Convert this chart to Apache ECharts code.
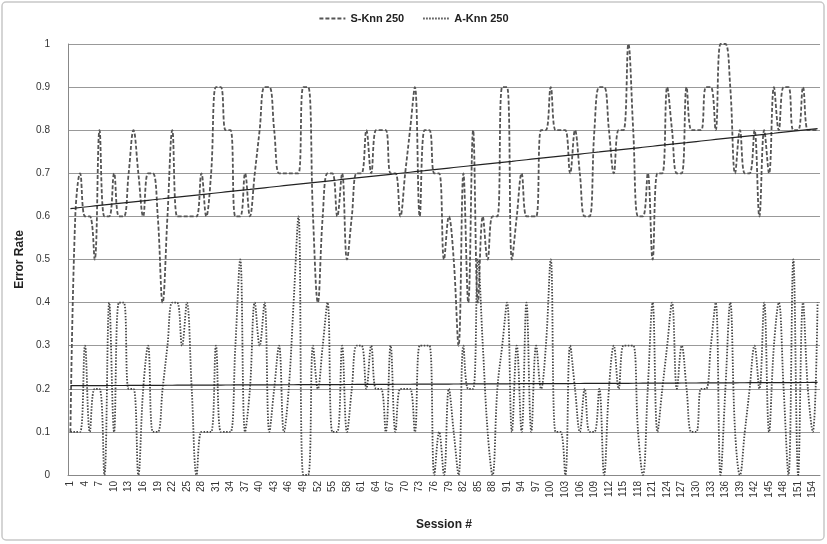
<!DOCTYPE html>
<html>
<head>
<meta charset="utf-8">
<script src="https://cdn.jsdelivr.net/npm/echarts@6/dist/echarts.min.js"></script>
<style>
  html, body { margin: 0; padding: 0; background: #fff; }
  #chart { width: 827px; height: 544px; }
</style>
</head>
<body>
<div id="chart"></div>
<script>
// sessions 1..155
const sessions = Array.from({ length: 155 }, (_, i) => String(i + 1))

const sKnn = [
  0.1, 0.6, 0.7, 0.6, 0.6, 0.5, 0.8, 0.6, 0.6, 0.7,
  0.6, 0.6, 0.7, 0.8, 0.7, 0.6, 0.7, 0.7, 0.6, 0.4,
  0.6, 0.8, 0.6, 0.6, 0.6, 0.6, 0.6, 0.7, 0.6, 0.7,
  0.9, 0.9, 0.8, 0.8, 0.6, 0.6, 0.7, 0.6, 0.7, 0.8,
  0.9, 0.9, 0.8, 0.7, 0.7, 0.7, 0.7, 0.7, 0.9, 0.9,
  0.6, 0.4, 0.6, 0.7, 0.7, 0.6, 0.7, 0.5, 0.6, 0.7,
  0.7, 0.8, 0.7, 0.8, 0.8, 0.8, 0.7, 0.7, 0.6, 0.7,
  0.8, 0.9, 0.6, 0.8, 0.8, 0.7, 0.7, 0.5, 0.6, 0.5,
  0.3, 0.7, 0.4, 0.8, 0.4, 0.6, 0.5, 0.6, 0.6, 0.9,
  0.9, 0.5, 0.6, 0.7, 0.6, 0.6, 0.6, 0.8, 0.8, 0.9,
  0.8, 0.8, 0.8, 0.7, 0.8, 0.7, 0.6, 0.6, 0.8, 0.9,
  0.9, 0.8, 0.7, 0.8, 0.8, 1.0, 0.8, 0.6, 0.6, 0.7,
  0.5, 0.7, 0.7, 0.9, 0.8, 0.7, 0.7, 0.9, 0.8, 0.8,
  0.8, 0.9, 0.9, 0.8, 1.0, 1.0, 0.9, 0.7, 0.8, 0.7,
  0.7, 0.8, 0.6, 0.8, 0.7, 0.9, 0.8, 0.9, 0.9, 0.8,
  0.8, 0.9, 0.8, 0.8, 0.8
]

const aKnn = [
  0.1, 0.1, 0.1, 0.3, 0.1, 0.2, 0.2, 0.0, 0.4, 0.1,
  0.4, 0.4, 0.2, 0.2, 0.0, 0.2, 0.3, 0.1, 0.1, 0.2,
  0.3, 0.4, 0.4, 0.3, 0.4, 0.2, 0.0, 0.1, 0.1, 0.1,
  0.3, 0.1, 0.1, 0.1, 0.3, 0.5, 0.1, 0.2, 0.4, 0.3,
  0.4, 0.1, 0.2, 0.3, 0.1, 0.2, 0.4, 0.6, 0.0, 0.0,
  0.3, 0.2, 0.3, 0.4, 0.1, 0.1, 0.3, 0.1, 0.2, 0.3,
  0.3, 0.2, 0.3, 0.2, 0.2, 0.1, 0.3, 0.1, 0.2, 0.2,
  0.2, 0.1, 0.3, 0.3, 0.3, 0.0, 0.1, 0.0, 0.2, 0.1,
  0.0, 0.3, 0.2, 0.2, 0.5, 0.3, 0.1, 0.0, 0.2, 0.3,
  0.4, 0.1, 0.3, 0.1, 0.4, 0.1, 0.3, 0.2, 0.3, 0.5,
  0.1, 0.1, 0.0, 0.3, 0.2, 0.1, 0.2, 0.1, 0.1, 0.2,
  0.0, 0.2, 0.3, 0.2, 0.3, 0.3, 0.3, 0.1, 0.0, 0.2,
  0.4, 0.1, 0.2, 0.3, 0.4, 0.2, 0.3, 0.2, 0.1, 0.1,
  0.2, 0.2, 0.3, 0.4, 0.0, 0.2, 0.4, 0.1, 0.0, 0.1,
  0.2, 0.3, 0.2, 0.4, 0.1, 0.3, 0.4, 0.2, 0.0, 0.5,
  0.0, 0.4, 0.2, 0.1, 0.4
]

const yTicks = [0, 0.1, 0.2, 0.3, 0.4, 0.5, 0.6, 0.7, 0.8, 0.9, 1]

// linear trendline (least squares), like Excel's
function trend(vals) {
  const n = vals.length
  let sx = 0, sy = 0, sxy = 0, sxx = 0
  vals.forEach((v, i) => { sx += i; sy += v; sxy += i * v; sxx += i * i })
  const b = (n * sxy - sx * sy) / (n * sxx - sx * sx)
  const a = (sy - b * sx) / n
  return vals.map((_, i) => +(a + b * i).toFixed(4))
}

const font = 'Liberation Sans, Arial, sans-serif'
const chart = echarts.init(document.getElementById('chart'))
chart.setOption({
  animation: false,
  textStyle: { fontFamily: font },
  graphic: [{
    type: 'rect',
    shape: { x: 2, y: 2, width: 822, height: 538, r: 4 },
    style: { fill: 'none', stroke: '#c8c8c8', lineWidth: 1.5 },
    silent: true
  }],
  legend: {
    top: 8,
    left: 'center',
    itemWidth: 26,
    itemHeight: 8,
    itemGap: 18,
    data: ['S-Knn 250', 'A-Knn 250'],
    itemStyle: { opacity: 0 },
    textStyle: { fontFamily: font, fontSize: 11, fontWeight: 'bold', color: '#222' }
  },
  grid: { left: 68, right: 7, top: 44, bottom: 69 },
  xAxis: {
    type: 'category',
    data: sessions,
    boundaryGap: true,
    name: 'Session #',
    nameLocation: 'middle',
    nameGap: 44,
    nameTextStyle: { fontFamily: font, fontSize: 12, fontWeight: 'bold', color: '#222' },
    axisLine: { lineStyle: { color: '#888' } },
    axisTick: { show: false },
    axisLabel: { interval: 2, rotate: 90, fontSize: 10, color: '#333', margin: 6 }
  },
  yAxis: {
    type: 'value',
    min: 0,
    max: 1,
    interval: 0.1,
    name: 'Error Rate',
    nameLocation: 'middle',
    nameGap: 34,
    nameTextStyle: { fontFamily: font, fontSize: 12, fontWeight: 'bold', color: '#222' },
    axisLine: { show: true, lineStyle: { color: '#888' } },
    axisTick: { show: false },
    axisLabel: {
      fontSize: 10, color: '#333', margin: 18,
      formatter: v => String(yTicks.find(t => Math.abs(t - v) < 1e-6) ?? v)
    },
    splitLine: { lineStyle: { color: '#999', width: 1 } }
  },
  series: [
    {
      name: 'S-Knn 250',
      type: 'line',
      data: sKnn,
      smooth: 0.4,
      symbol: 'none',
      lineStyle: { color: '#555', width: 1.8, type: [4, 2] },
      itemStyle: { color: '#555' },
      z: 3
    },
    {
      name: 'A-Knn 250',
      type: 'line',
      data: aKnn,
      smooth: 0.4,
      symbol: 'none',
      lineStyle: { color: '#444', width: 1.8, type: [1.5, 1.5] },
      itemStyle: { color: '#444' },
      z: 3
    },
    {
      name: 'S trend',
      type: 'line',
      data: trend(sKnn),
      symbol: 'none',
      lineStyle: { color: '#222', width: 1.2 },
      z: 4
    },
    {
      name: 'A trend',
      type: 'line',
      data: trend(aKnn),
      symbol: 'none',
      lineStyle: { color: '#222', width: 1.2 },
      z: 4
    }
  ]
})
</script>
</body>
</html>
